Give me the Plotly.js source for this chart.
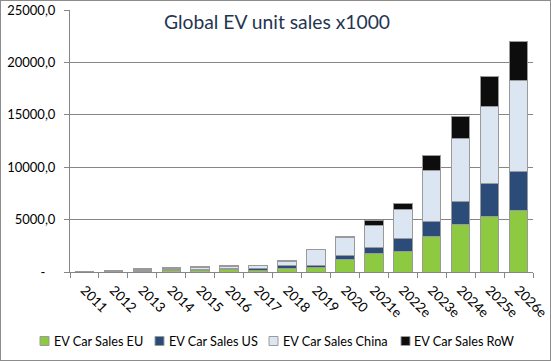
<!DOCTYPE html>
<html>
<head>
<meta charset="utf-8">
<script src="https://cdn.plot.ly/plotly-3.0.1.min.js"></script>
<style>
  html, body { margin: 0; padding: 0; background: #fff; }
  #wrap { width: 549px; height: 359px; border: 1px solid #8c8c8c; }
</style>
</head>
<body>
<div id="wrap"><div id="chart"></div></div>
<script>
// Data (thousands of units)
const years = ["2011","2012","2013","2014","2015","2016","2017","2018","2019","2020",
               "2021e","2022e","2023e","2024e","2025e","2026e"];
const salesEU    = [10, 30, 70, 100, 150, 200, 180, 300, 400, 1150, 1770, 2000, 3370, 4550, 5280, 5850];
const salesUS    = [20, 50, 100, 120, 120, 160, 200, 350, 250, 400, 580, 1150, 1430, 2150, 3180, 3720];
const salesChina = [10, 15, 100, 150, 180, 200, 230, 350, 1450, 1750, 2130, 2770, 4930, 6050, 7380, 8750];
const salesRoW   = [10, 15, 40, 50, 50, 50, 50, 100, 50, 130, 390, 570, 1340, 2130, 2790, 3650];

const seriesNames = ["EV Car Sales EU", "EV Car Sales US", "EV Car Sales China", "EV Car Sales RoW"];
const seriesValues = [salesEU, salesUS, salesChina, salesRoW];
const seriesColors = ["#8dc941", "#2b4b78", "#dce6f2", "#0d0d0d"];

const yTickVals = [0, 5000, 10000, 15000, 20000, 25000];
const yTickText = ["-\u00a0\u00a0\u00a0", "5000,0", "10000,0", "15000,0", "20000,0", "25000,0"];

const fontFam = "Lato, 'Open Sans', sans-serif";

const traces = seriesNames.map((name, i) => ({
  type: "bar",
  name: name,
  x: years,
  y: seriesValues[i],
  marker: { color: seriesColors[i], line: { color: "#9a9a9a", width: 1 } },
  showlegend: false,
  hoverinfo: "x+y+name"
}));

// Manual legend (compact like the original): squares + labels
const W = 549, H = 359;
const mL = 69, mR = 17, mT = 9, mB = 88;
const plotW = W - mL - mR, plotH = H - mT - mB;
const legSquareX = [39, 154, 268, 400];
const legTextX = [51, 166, 280, 411];
const legY = 340;
const toPX = px => (px - mL) / plotW;
const toPY = py => (H - mB - py) / plotH;

const shapes = seriesNames.map((n, i) => ({
  type: "rect", xref: "paper", yref: "paper",
  x0: toPX(legSquareX[i]), x1: toPX(legSquareX[i] + 9),
  y0: toPY(legY + 4.5), y1: toPY(legY - 4.5),
  fillcolor: seriesColors[i], line: { color: "#9a9a9a", width: 1 }
}));
const annotations = seriesNames.map((n, i) => ({
  text: n, xref: "paper", yref: "paper",
  x: toPX(legTextX[i]), y: toPY(legY),
  xanchor: "left", yanchor: "middle", showarrow: false,
  font: { family: fontFam, size: 12.7, color: "#000" }
}));

const layout = {
  width: W, height: H,
  margin: { l: mL, r: mR, t: mT, b: mB },
  paper_bgcolor: "#ffffff",
  plot_bgcolor: "#ffffff",
  barmode: "stack",
  bargap: 0.36,
  title: {
    text: "Global EV unit sales x1000",
    font: { family: fontFam, size: 19.3, color: "#1f3653" },
    xref: "paper", x: toPX(276), xanchor: "center",
    yref: "container", y: 1 - 21 / H, yanchor: "middle"
  },
  xaxis: {
    type: "category",
    tickangle: 45,
    tickson: "boundaries",
    ticks: "outside", ticklen: 5, tickcolor: "#868686",
    showline: true, linecolor: "#868686", linewidth: 1,
    showgrid: false,
    ticklabelstandoff: 4,
    tickfont: { family: fontFam, size: 13.5, color: "#000" }
  },
  yaxis: {
    range: [0, 25000],
    tickvals: yTickVals, ticktext: yTickText,
    ticks: "outside", ticklen: 5, tickcolor: "#868686",
    showline: true, linecolor: "#868686", linewidth: 1,
    showgrid: true, gridcolor: "#868686", gridwidth: 1,
    zeroline: false,
    ticklabelstandoff: 6,
    tickfont: { family: fontFam, size: 13, color: "#000" }
  },
  shapes: shapes,
  annotations: annotations
};

Plotly.newPlot("chart", traces, layout, { displayModeBar: false, staticPlot: true });
</script>
</body>
</html>
